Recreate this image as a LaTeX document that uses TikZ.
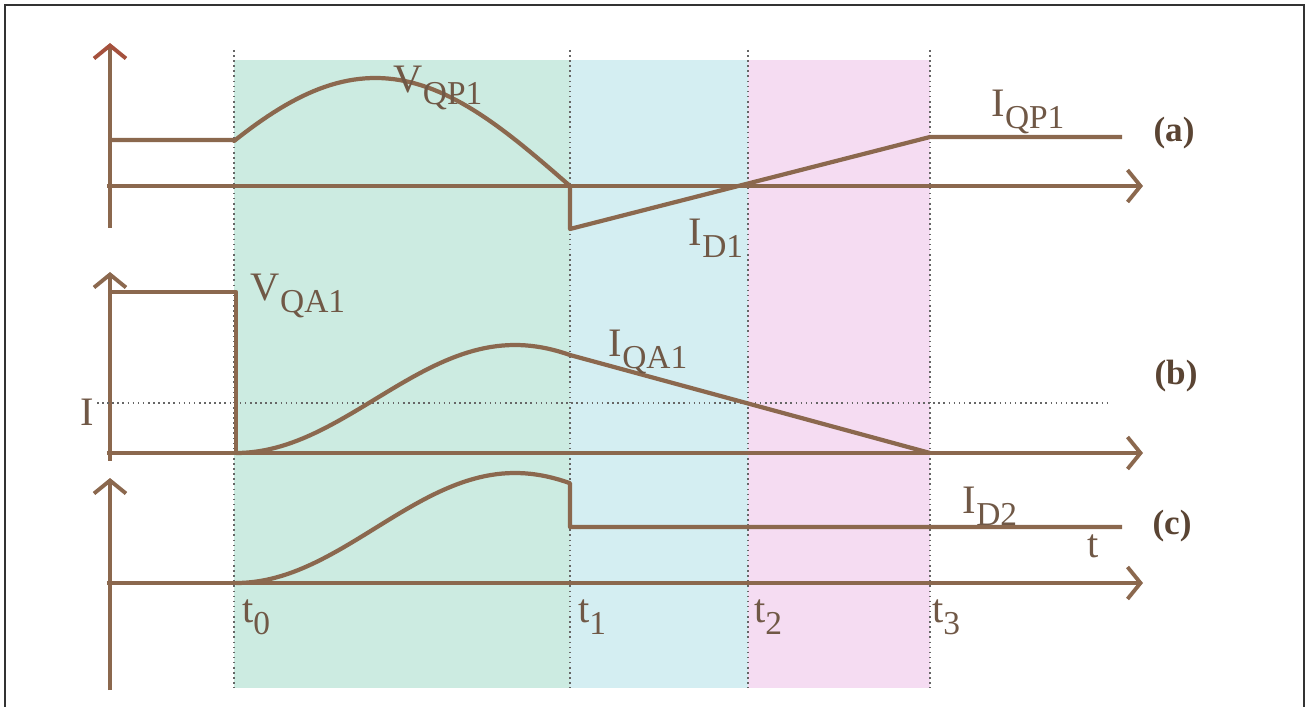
\documentclass[tikz,border=0pt]{standalone}
\usepackage{fontspec}
\setmainfont{Liberation Serif}
\usetikzlibrary{arrows.meta}
\definecolor{wave}{RGB}{139,104,78}
\definecolor{labtext}{RGB}{112,88,70}
\definecolor{phaseA}{RGB}{204,235,225}
\definecolor{phaseB}{RGB}{212,238,242}
\definecolor{phaseC}{RGB}{245,220,242}
\newcommand{\sbs}[1]{\raisebox{-3.4pt}{\fontsize{9.5}{11}\selectfont #1}}

\begin{document}
\begin{tikzpicture}[x=0.01cm, y=-0.01cm,
      axis/.style={draw=wave, line width=1.1pt,
                  -{Straight Barb[length=1.3mm, width=3.2mm]}},
      wave/.style={draw=wave, line width=1.2pt, line join=round},
      tline/.style={draw=black!60, densely dotted, line width=0.45pt},
      level/.style={draw=black!60, densely dotted, line width=0.45pt},
      lab/.style={text=labtext, font=\fontsize{11.5}{14}\selectfont, inner sep=1pt},
      tag/.style={text=wave!65!black, font=\bfseries\fontsize{10}{12}\selectfont, inner sep=1pt},
   ]
   \useasboundingbox (0,0) rectangle (1310,707);
   % frame
   \draw[black!80, line width=0.7pt] (5,712) -- (5,5) -- (1304,5) -- (1304,712);

   % phases
   \fill[phaseA] (234,60) rectangle (570,688);
   \fill[phaseB] (570,60) rectangle (748,688);
   \fill[phaseC] (748,60) rectangle (930,688);
   \foreach \x/\n in {234/0, 570/1, 748/2, 930/3} {
      \coordinate (t\n top) at (\x,50);
      \coordinate (t\n bot) at (\x,688);
      \draw[tline] (t\n top) -- (t\n bot);
   }

   % axes
   \coordinate (ya top) at (110,43);  \coordinate (ya bot) at (110,228);
   \coordinate (xa left) at (107,186); \coordinate (xa right) at (1143,186);
   \coordinate (yb top) at (110,272); \coordinate (yb bot) at (110,461);
   \coordinate (xb left) at (107,453); \coordinate (xb right) at (1143,453);
   \coordinate (yc top) at (110,478); \coordinate (yc bot) at (110,690);
   \coordinate (xc left) at (107,583); \coordinate (xc right) at (1143,583);
   \draw[axis, -{Straight Barb[length=1.3mm, width=3.2mm, color=red!22!wave]}] (ya bot) -- (ya top);
   \draw[axis] (xa left) -- (xa right);
   \draw[axis] (yb bot) -- (yb top);
   \draw[axis] (xb left) -- (xb right);
   \draw[axis] (yc bot) -- (yc top);
   \draw[axis] (xc left) -- (xc right);

   % level I
   \coordinate (lev left) at (97,403);
   \coordinate (lev right) at (1110,403);
   \draw[level] (lev left) -- (lev right);

   % (a)
   \draw[wave] (112,140) -- (234,140)
      -- plot[domain=0:155.4, samples=60] ({234+\x/155.4*336}, {186-108*sin(\x+24.6)});
   \draw[wave] (570,186) -- (570,229) -- (930,137) -- (1122,137);
   % (b)
   \draw[wave] (112,292) -- (236,292) -- (236,453);
   \draw[wave] plot[domain=0:215.5, samples=60] ({236+\x/180*279}, {453-54*(1-cos(\x))})
      -- (930,453);
   % (c)
   \draw[wave] plot[domain=0:215.5, samples=60] ({236+\x/180*279}, {583-55*(1-cos(\x))})
      -- (570,527) -- (1122,527);

   % labels
   \node[lab] (vqp) at (438,88) {V\sbs{QP1}};
   \node[lab] (id1) at (716,238) {I\sbs{D1}};
   \node[lab] (iqp) at (1028,112) {I\sbs{QP1}};
   \node[lab] (vqa) at (298,296) {V\sbs{QA1}};
   \node[lab] (ilev) at (87,412) {I};
   \node[lab] (iqa) at (648,352) {I\sbs{QA1}};
   \node[lab] (id2) at (990,506) {I\sbs{D2}};
   \node[lab] (tlab) at (1093,546) {t};
   \foreach \x/\n in {256/0, 592/1, 768/2, 946/3}
      \node[lab] (t\n lab) at (\x,617) {t\sbs{\n}};
   \node[tag] (ta) at (1174,133) {(a)};
   \node[tag] (tb) at (1176,376) {(b)};
   \node[tag] (tc) at (1172,526) {(c)};
\end{tikzpicture}
\end{document}
